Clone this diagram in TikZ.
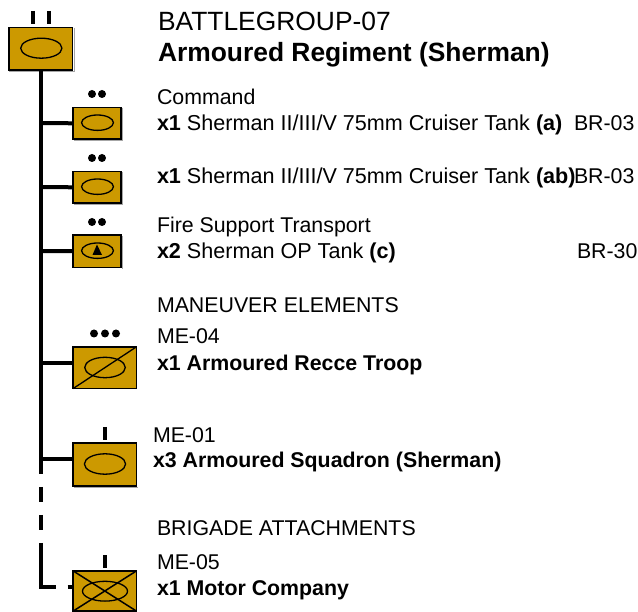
\documentclass[tikz,border=0pt]{standalone}
\usepackage{fontspec}
\setmainfont{Liberation Sans}
\tikzset{
 x=1pt,y=-1pt,
 unitbox/.style={draw=black,line width=1.7pt,fill=gold,inner sep=0pt,outer sep=0pt,minimum width=#1,rectangle},
 link/.style={line width=4pt,draw=black},
 tick/.style={line width=3.2pt,draw=black},
 sym/.style={draw=black,line width=1.3pt},
 blob/.style={circle,fill=black,inner sep=0pt,minimum size=8pt},
 lab/.style={anchor=base west,inner sep=0pt,outer sep=0pt,font=\fontsize{21.33}{21.33}\selectfont},
 labw/.style={lab,font=\fontsize{21.58}{21.58}\selectfont},
 head/.style={anchor=base west,inner sep=0pt,outer sep=0pt,font=\fontsize{26.4}{26.4}\selectfont},
 shade/.style={draw=gray!70,line width=1pt}
}
\definecolor{gold}{HTML}{CC9900}
\begin{document}
\begin{tikzpicture}
\useasboundingbox (0,0) rectangle (638,612);
% shadows
\draw[shade] (9,71.3) -- (74,71.3) -- (74,28);
\draw[shade] (122.3,108) -- (122.3,140.5) -- (74,140.5);
\draw[shade] (122.3,172) -- (122.3,204.5) -- (74,204.5);
\draw[shade] (122.3,236) -- (122.3,269);
\draw[shade] (74,487.3) -- (138,487.3);
% boxes
\node[unitbox=63.5pt,minimum height=42.3pt] (bg) at (40.8,48.7) {};
\node[unitbox=47.7pt,minimum height=31.7pt] (hq1) at (97,123.3) {};
\node[unitbox=47.7pt,minimum height=31.7pt] (hq2) at (97,187.3) {};
\node[unitbox=47.7pt,minimum height=32.5pt] (fs) at (97,251.2) {};
\node[unitbox=63.3pt,minimum height=41.7pt] (me4) at (104.8,367.7) {};
\node[unitbox=63.3pt,minimum height=42.7pt] (me1) at (104.8,464.5) {};
\node[unitbox=63.3pt,minimum height=40.2pt] (me5) at (104.8,591) {};
% symbols
\draw[sym] (41.3,48.2) ellipse [x radius=20.6,y radius=10];
\draw[sym] (97.5,122.7) ellipse [x radius=15.9,y radius=7.7];
\draw[sym] (97.5,186.7) ellipse [x radius=15.9,y radius=7.7];
\draw[sym] (97.5,250.7) ellipse [x radius=15.9,y radius=7.7];
\fill[black] (97,244.5) -- (102,255) -- (92.5,255) -- cycle;
\draw[sym] (105,367.5) ellipse [x radius=20.3,y radius=10.2];
\draw[sym] (me4.south west) -- (me4.north east);
\draw[sym] (105,464) ellipse [x radius=20.6,y radius=10.2];
\draw[sym] (105,591.2) ellipse [x radius=22.5,y radius=9.9];
\draw[sym,line width=1.5pt] (me5.south west) -- (me5.north east) (me5.north west) -- (me5.south east);
% connectors
\coordinate (solidend) at (41,474);
\coordinate (dashstart) at (41,487);
\coordinate (corner) at (41,586.5);
\draw[link] (bg.south -| solidend) -- (solidend);
\draw[link] (41,123) -- (hq1.west);
\draw[link] (41,187) -- (hq2.west);
\draw[link] (41,251) -- (fs.west);
\draw[link] (41,363) -- (me4.west |- 0,363);
\draw[link] (41,459) -- (me1.west |- 0,459);
\draw[link,dash pattern=on 15pt off 13pt on 15pt off 13pt on 58pt off 12pt on 6pt] (dashstart) -- (corner) -- (me5.west |- corner);
% echelon marks
\draw[tick] (33,11) -- (33,24) (49,11) -- (49,24);
\draw[tick] (105,427) -- (105,440);
\draw[tick] (105,555) -- (105,568);
\foreach \n/\x/\y in {a/92/94,b/102/94,c/92/158,d/102/158,e/92/222,f/102/222,g/94/333.5,h/105/333.5,i/116/333.5}
  \node[blob] (dot\n) at (\x,\y) {};
% text
\node[head] (t1) at (158,31) {BATTLEGROUP-07};
\node[head] (t2) at (158,62) {\textbf{Armoured Regiment (Sherman)}};
\node[lab] (t3) at (157,105) {Command};
\node[labw] (t4) at (157,131) {\textbf{x1} Sherman II/III/V 75mm Cruiser Tank \textbf{(a)}};
\node[lab] (t5) at (574,131) {BR-03};
\node[labw] (t6) at (157,184) {\textbf{x1} Sherman II/III/V 75mm Cruiser Tank \textbf{(ab)}};
\node[lab] (t7) at (574,184) {BR-03};
\node[lab] (t8) at (157,233) {Fire Support Transport};
\node[labw] (t9) at (157,259) {\textbf{x2} Sherman OP Tank \textbf{(c)}};
\node[lab] (t10) at (577,259) {BR-30};
\node[lab] (t11) at (157,312.5) {MANEUVER ELEMENTS};
\node[lab] (t12) at (157,344) {ME-04};
\node[lab] (t13) at (157,371) {\textbf{x1 Armoured Recce Troop}};
\node[lab] (t14) at (153,443) {ME-01};
\node[lab] (t15) at (153,468) {\textbf{x3 Armoured Squadron (Sherman)}};
\node[lab] (t16) at (157,536) {BRIGADE ATTACHMENTS};
\node[lab] (t17) at (157,569) {ME-05};
\node[lab] (t18) at (157,595) {\textbf{x1 Motor Company}};
\end{tikzpicture}
\end{document}
